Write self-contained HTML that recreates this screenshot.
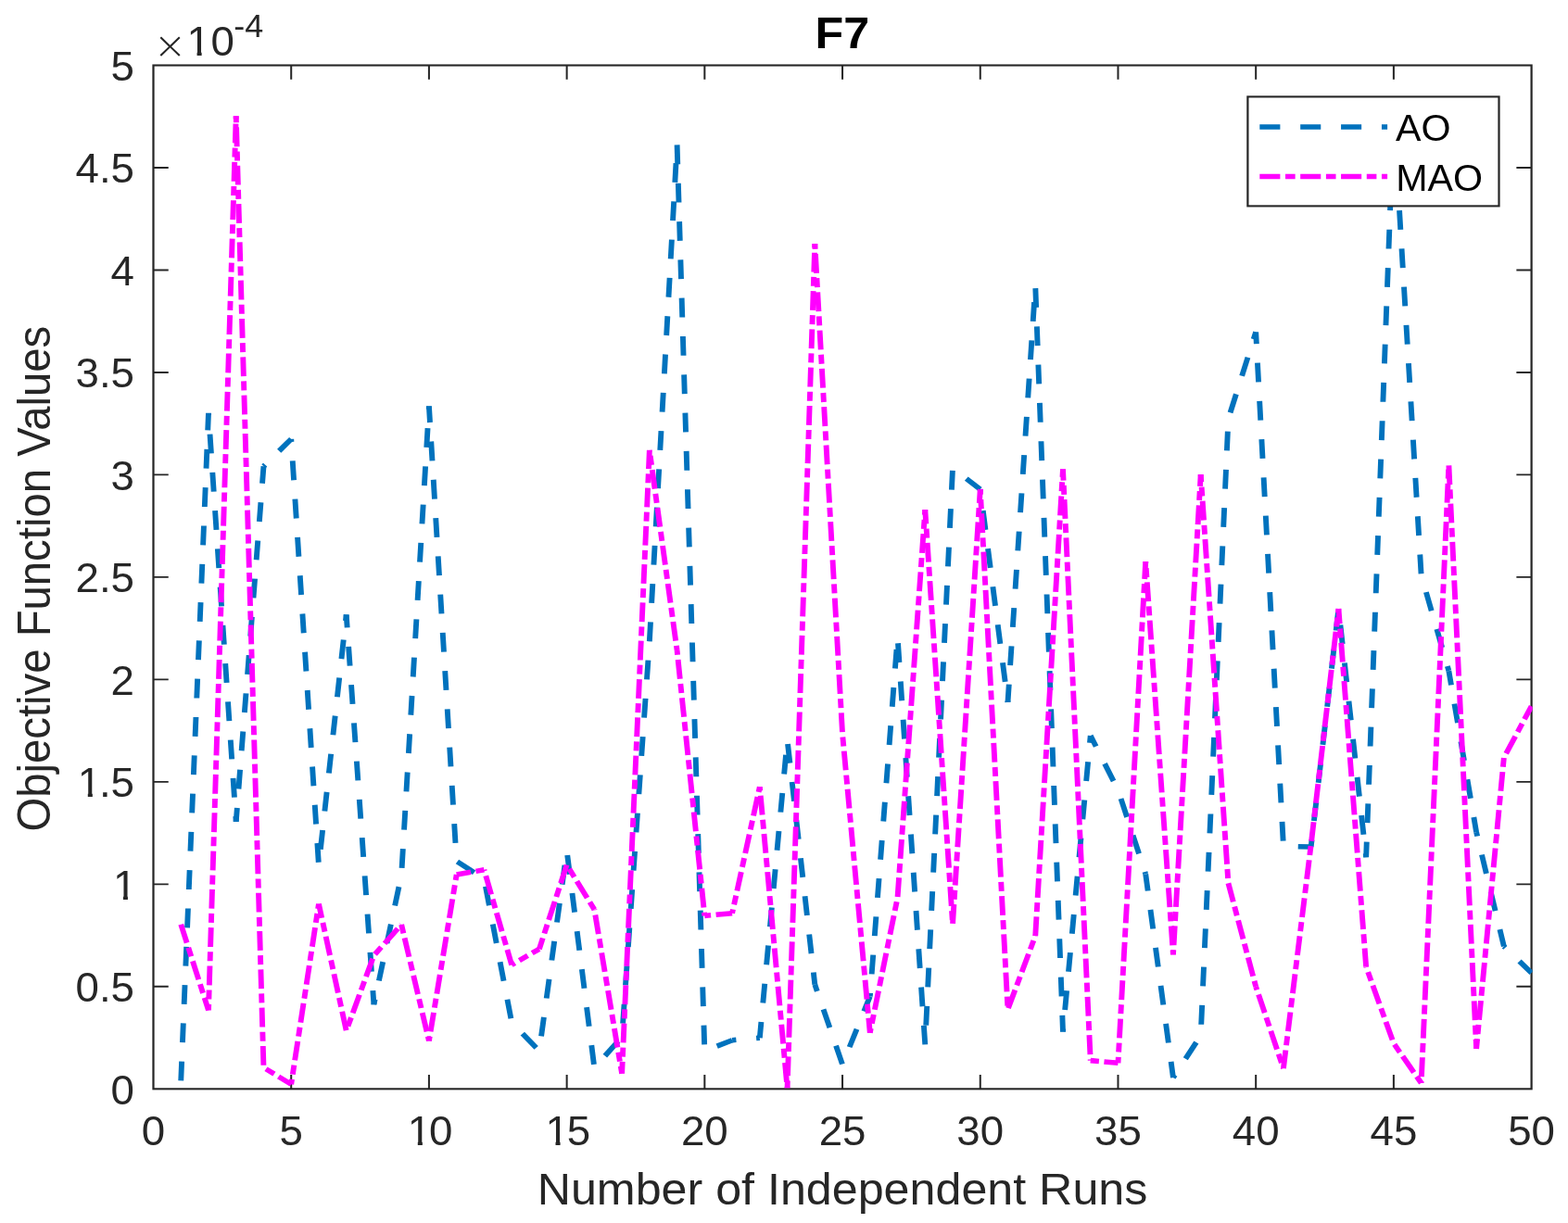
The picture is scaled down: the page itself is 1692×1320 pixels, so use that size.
<!DOCTYPE html>
<html lang="en"><head><meta charset="utf-8"><title>F7</title>
<style>
html,body{margin:0;padding:0;background:#fff;}
body{width:1692px;height:1320px;overflow:hidden;}
svg{display:block;}
text{font-family:"Liberation Sans", Arial, Helvetica, sans-serif;fill:#262626;}
.tk{font-size:44.6px;font-kerning:none;}
.sp{font-size:35.0px;}
.tm{font-family:"DejaVu Sans Light","DejaVu Sans",sans-serif;font-weight:200;font-size:40px;}
.lb{font-size:47.3px;}
.tt{font-size:48.8px;font-weight:bold;fill:#000;}
.lg{font-size:40.0px;fill:#000;}
.ax{stroke:#262626;fill:none;}
.d{fill:none;stroke-width:5.55;stroke-linecap:butt;}
.ao{stroke:#0072BD;stroke-dasharray:20.8 20.53;}
.mao{stroke:#FF00FF;stroke-dasharray:20.8 5.3 10 5.23;}
</style></head><body>
<svg width="1692" height="1320" viewBox="0 0 1692 1320">
<rect x="0" y="0" width="1692" height="1320" fill="#fff"/>
<defs><clipPath id="c"><rect x="155.88" y="70.50" width="1401.68" height="1103.80"/></clipPath></defs>
<g transform="scale(1.0617 1)">
<rect class="ax" x="155.88" y="70.50" width="1400.68" height="1104.80" stroke-width="2.1"/>
<path class="ax" stroke-width="1.9" d="M295.95 1175.30v-15.30M295.95 70.50v15.30M436.02 1175.30v-15.30M436.02 70.50v15.30M576.09 1175.30v-15.30M576.09 70.50v15.30M716.15 1175.30v-15.30M716.15 70.50v15.30M856.22 1175.30v-15.30M856.22 70.50v15.30M996.29 1175.30v-15.30M996.29 70.50v15.30M1136.36 1175.30v-15.30M1136.36 70.50v15.30M1276.42 1175.30v-15.30M1276.42 70.50v15.30M1416.49 1175.30v-15.30M1416.49 70.50v15.30M155.88 1064.82h15.30M1556.56 1064.82h-15.30M155.88 954.34h15.30M1556.56 954.34h-15.30M155.88 843.86h15.30M1556.56 843.86h-15.30M155.88 733.38h15.30M1556.56 733.38h-15.30M155.88 622.90h15.30M1556.56 622.90h-15.30M155.88 512.42h15.30M1556.56 512.42h-15.30M155.88 401.94h15.30M1556.56 401.94h-15.30M155.88 291.46h15.30M1556.56 291.46h-15.30M155.88 180.98h15.30M1556.56 180.98h-15.30"/>
<g clip-path="url(#c)">
<line class="d ao" x1="183.90" y1="1166.48" x2="211.91" y2="445.87" stroke-dashoffset="0.00"/>
<line class="d ao" x1="211.91" y1="445.87" x2="239.92" y2="886.90" stroke-dashoffset="18.55"/>
<line class="d ao" x1="239.92" y1="886.90" x2="267.94" y2="503.27" stroke-dashoffset="5.85"/>
<line class="d ao" x1="267.94" y1="503.27" x2="295.95" y2="473.93" stroke-dashoffset="18.53"/>
<line class="d ao" x1="295.95" y1="473.93" x2="323.96" y2="933.92" stroke-dashoffset="17.77"/>
<line class="d ao" x1="323.96" y1="933.92" x2="351.98" y2="663.36" stroke-dashoffset="23.98"/>
<line class="d ao" x1="351.98" y1="663.36" x2="379.99" y2="1084.20" stroke-dashoffset="6.69"/>
<line class="d ao" x1="379.99" y1="1084.20" x2="408.00" y2="944.37" stroke-dashoffset="15.16"/>
<line class="d ao" x1="408.00" y1="944.37" x2="436.02" y2="438.44" stroke-dashoffset="33.77"/>
<line class="d ao" x1="436.02" y1="438.44" x2="464.03" y2="929.53" stroke-dashoffset="3.19"/>
<line class="d ao" x1="464.03" y1="929.53" x2="492.04" y2="948.73" stroke-dashoffset="40.44"/>
<line class="d ao" x1="492.04" y1="948.73" x2="520.06" y2="1103.38" stroke-dashoffset="33.07"/>
<line class="d ao" x1="520.06" y1="1103.38" x2="548.07" y2="1134.33" stroke-dashoffset="24.92"/>
<line class="d ao" x1="548.07" y1="1134.33" x2="576.09" y2="918.26" stroke-dashoffset="25.34"/>
<line class="d ao" x1="576.09" y1="918.26" x2="604.10" y2="1152.52" stroke-dashoffset="36.57"/>
<line class="d ao" x1="604.10" y1="1152.52" x2="632.11" y2="1119.13" stroke-dashoffset="24.52"/>
<line class="d ao" x1="632.11" y1="1119.13" x2="660.13" y2="692.04" stroke-dashoffset="26.78"/>
<line class="d ao" x1="660.13" y1="692.04" x2="688.14" y2="156.03" stroke-dashoffset="0.16"/>
<line class="d ao" x1="688.14" y1="156.03" x2="716.15" y2="1134.36" stroke-dashoffset="40.93"/>
<line class="d ao" x1="716.15" y1="1134.36" x2="744.17" y2="1122.73" stroke-dashoffset="27.74"/>
<line class="d ao" x1="744.17" y1="1122.73" x2="772.18" y2="1120.15" stroke-dashoffset="16.74"/>
<line class="d ao" x1="772.18" y1="1120.15" x2="800.19" y2="798.61" stroke-dashoffset="3.54"/>
<line class="d ao" x1="800.19" y1="798.61" x2="828.21" y2="1062.72" stroke-dashoffset="36.99"/>
<line class="d ao" x1="828.21" y1="1062.72" x2="856.22" y2="1148.90" stroke-dashoffset="13.27"/>
<line class="d ao" x1="856.22" y1="1148.90" x2="884.23" y2="1075.49" stroke-dashoffset="21.23"/>
<line class="d ao" x1="884.23" y1="1075.49" x2="912.25" y2="687.31" stroke-dashoffset="17.13"/>
<line class="d ao" x1="912.25" y1="687.31" x2="940.26" y2="1127.37" stroke-dashoffset="34.36"/>
<line class="d ao" x1="940.26" y1="1127.37" x2="968.28" y2="505.35" stroke-dashoffset="20.68"/>
<line class="d ao" x1="968.28" y1="505.35" x2="996.29" y2="528.22" stroke-dashoffset="23.38"/>
<line class="d ao" x1="996.29" y1="528.22" x2="1024.30" y2="757.86" stroke-dashoffset="18.22"/>
<line class="d ao" x1="1024.30" y1="757.86" x2="1052.32" y2="308.36" stroke-dashoffset="1.58"/>
<line class="d ao" x1="1052.32" y1="308.36" x2="1080.33" y2="1113.54" stroke-dashoffset="38.65"/>
<line class="d ao" x1="1080.33" y1="1113.54" x2="1108.34" y2="793.99" stroke-dashoffset="17.72"/>
<line class="d ao" x1="1108.34" y1="793.99" x2="1136.36" y2="852.57" stroke-dashoffset="7.86"/>
<line class="d ao" x1="1136.36" y1="852.57" x2="1164.37" y2="943.29" stroke-dashoffset="31.46"/>
<line class="d ao" x1="1164.37" y1="943.29" x2="1192.38" y2="1163.10" stroke-dashoffset="2.42"/>
<line class="d ao" x1="1192.38" y1="1163.10" x2="1220.40" y2="1117.61" stroke-dashoffset="17.36"/>
<line class="d ao" x1="1220.40" y1="1117.61" x2="1248.41" y2="452.05" stroke-dashoffset="29.46"/>
<line class="d ao" x1="1248.41" y1="452.05" x2="1276.42" y2="358.37" stroke-dashoffset="34.32"/>
<line class="d ao" x1="1276.42" y1="358.37" x2="1304.44" y2="913.26" stroke-dashoffset="8.12"/>
<line class="d ao" x1="1304.44" y1="913.26" x2="1332.45" y2="914.04" stroke-dashoffset="26.43"/>
<line class="d ao" x1="1332.45" y1="914.04" x2="1360.47" y2="656.97" stroke-dashoffset="13.13"/>
<line class="d ao" x1="1360.47" y1="656.97" x2="1388.48" y2="925.24" stroke-dashoffset="23.73"/>
<line class="d ao" x1="1388.48" y1="925.24" x2="1416.49" y2="123.95" stroke-dashoffset="4.15"/>
<line class="d ao" x1="1416.49" y1="123.95" x2="1444.51" y2="620.87" stroke-dashoffset="20.66"/>
<line class="d ao" x1="1444.51" y1="620.87" x2="1472.52" y2="724.10" stroke-dashoffset="22.40"/>
<line class="d ao" x1="1472.52" y1="724.10" x2="1500.53" y2="898.19" stroke-dashoffset="5.38"/>
<line class="d ao" x1="1500.53" y1="898.19" x2="1528.55" y2="1021.49" stroke-dashoffset="16.39"/>
<line class="d ao" x1="1528.55" y1="1021.49" x2="1556.56" y2="1050.10" stroke-dashoffset="18.84"/>
<line class="d mao" x1="183.90" y1="997.76" x2="211.91" y2="1090.45" stroke-dashoffset="0.00"/>
<line class="d mao" x1="211.91" y1="1090.45" x2="239.92" y2="125.28" stroke-dashoffset="14.17"/>
<line class="d mao" x1="239.92" y1="125.28" x2="267.94" y2="1152.25" stroke-dashoffset="29.17"/>
<line class="d mao" x1="267.94" y1="1152.25" x2="295.95" y2="1170.28" stroke-dashoffset="23.28"/>
<line class="d mao" x1="295.95" y1="1170.28" x2="323.96" y2="975.55" stroke-dashoffset="15.26"/>
<line class="d mao" x1="323.96" y1="975.55" x2="351.98" y2="1112.44" stroke-dashoffset="5.35"/>
<line class="d mao" x1="351.98" y1="1112.44" x2="379.99" y2="1031.17" stroke-dashoffset="21.08"/>
<line class="d mao" x1="379.99" y1="1031.17" x2="408.00" y2="997.96" stroke-dashoffset="24.38"/>
<line class="d mao" x1="408.00" y1="997.96" x2="436.02" y2="1123.48" stroke-dashoffset="26.50"/>
<line class="d mao" x1="436.02" y1="1123.48" x2="464.03" y2="944.02" stroke-dashoffset="31.12"/>
<line class="d mao" x1="464.03" y1="944.02" x2="492.04" y2="938.83" stroke-dashoffset="6.11"/>
<line class="d mao" x1="492.04" y1="938.83" x2="520.06" y2="1041.44" stroke-dashoffset="34.60"/>
<line class="d mao" x1="520.06" y1="1041.44" x2="548.07" y2="1024.32" stroke-dashoffset="16.98"/>
<line class="d mao" x1="548.07" y1="1024.32" x2="576.09" y2="933.42" stroke-dashoffset="8.48"/>
<line class="d mao" x1="576.09" y1="933.42" x2="604.10" y2="981.69" stroke-dashoffset="20.94"/>
<line class="d mao" x1="604.10" y1="981.69" x2="632.11" y2="1158.73" stroke-dashoffset="35.43"/>
<line class="d mao" x1="632.11" y1="1158.73" x2="660.13" y2="485.97" stroke-dashoffset="8.02"/>
<line class="d mao" x1="660.13" y1="485.97" x2="688.14" y2="702.00" stroke-dashoffset="20.08"/>
<line class="d mao" x1="688.14" y1="702.00" x2="716.15" y2="988.41" stroke-dashoffset="31.27"/>
<line class="d mao" x1="716.15" y1="988.41" x2="744.17" y2="985.72" stroke-dashoffset="29.73"/>
<line class="d mao" x1="744.17" y1="985.72" x2="772.18" y2="849.30" stroke-dashoffset="16.55"/>
<line class="d mao" x1="772.18" y1="849.30" x2="800.19" y2="1174.66" stroke-dashoffset="31.82"/>
<line class="d mao" x1="800.19" y1="1174.66" x2="828.21" y2="263.20" stroke-dashoffset="27.75"/>
<line class="d mao" x1="828.21" y1="263.20" x2="856.22" y2="791.71" stroke-dashoffset="30.38"/>
<line class="d mao" x1="856.22" y1="791.71" x2="884.23" y2="1114.73" stroke-dashoffset="22.35"/>
<line class="d mao" x1="884.23" y1="1114.73" x2="912.25" y2="968.81" stroke-dashoffset="15.94"/>
<line class="d mao" x1="912.25" y1="968.81" x2="940.26" y2="550.14" stroke-dashoffset="40.54"/>
<line class="d mao" x1="940.26" y1="550.14" x2="968.28" y2="997.58" stroke-dashoffset="5.52"/>
<line class="d mao" x1="968.28" y1="997.58" x2="996.29" y2="527.98" stroke-dashoffset="40.54"/>
<line class="d mao" x1="996.29" y1="527.98" x2="1024.30" y2="1089.48" stroke-dashoffset="15.02"/>
<line class="d mao" x1="1024.30" y1="1089.48" x2="1052.32" y2="1010.04" stroke-dashoffset="39.93"/>
<line class="d mao" x1="1052.32" y1="1010.04" x2="1080.33" y2="506.45" stroke-dashoffset="0.17"/>
<line class="d mao" x1="1080.33" y1="506.45" x2="1108.34" y2="1144.63" stroke-dashoffset="8.58"/>
<line class="d mao" x1="1108.34" y1="1144.63" x2="1136.36" y2="1147.35" stroke-dashoffset="27.42"/>
<line class="d mao" x1="1136.36" y1="1147.35" x2="1164.37" y2="606.06" stroke-dashoffset="14.24"/>
<line class="d mao" x1="1164.37" y1="606.06" x2="1192.38" y2="1030.42" stroke-dashoffset="18.96"/>
<line class="d mao" x1="1192.38" y1="1030.42" x2="1220.40" y2="512.15" stroke-dashoffset="30.94"/>
<line class="d mao" x1="1220.40" y1="512.15" x2="1248.41" y2="953.30" stroke-dashoffset="12.66"/>
<line class="d mao" x1="1248.41" y1="953.30" x2="1276.42" y2="1064.84" stroke-dashoffset="0.07"/>
<line class="d mao" x1="1276.42" y1="1064.84" x2="1304.44" y2="1153.14" stroke-dashoffset="32.41"/>
<line class="d mao" x1="1304.44" y1="1153.14" x2="1332.45" y2="912.00" stroke-dashoffset="1.06"/>
<line class="d mao" x1="1332.45" y1="912.00" x2="1360.47" y2="656.93" stroke-dashoffset="37.16"/>
<line class="d mao" x1="1360.47" y1="656.93" x2="1388.48" y2="1043.54" stroke-dashoffset="4.46"/>
<line class="d mao" x1="1388.48" y1="1043.54" x2="1416.49" y2="1126.14" stroke-dashoffset="20.12"/>
<line class="d mao" x1="1416.49" y1="1126.14" x2="1444.51" y2="1168.89" stroke-dashoffset="24.68"/>
<line class="d mao" x1="1444.51" y1="1168.89" x2="1472.52" y2="501.86" stroke-dashoffset="34.46"/>
<line class="d mao" x1="1472.52" y1="501.86" x2="1500.53" y2="1131.88" stroke-dashoffset="40.80"/>
<line class="d mao" x1="1500.53" y1="1131.88" x2="1528.55" y2="817.57" stroke-dashoffset="10.17"/>
<line class="d mao" x1="1528.55" y1="817.57" x2="1556.56" y2="762.22" stroke-dashoffset="36.42"/>
</g>
<text class="tk" text-anchor="middle" transform="translate(155.88 1236.40) scale(0.9645 1)">0</text>
<text class="tk" text-anchor="middle" transform="translate(295.95 1236.40) scale(0.9645 1)">5</text>
<text class="tk" transform="translate(436.02 1236.40) scale(0.9645 1)" clip-path="url(#k0)" x="-22.56 0.00">10</text>
<text class="tk" transform="translate(576.09 1236.40) scale(0.9645 1)" clip-path="url(#k1)" x="-22.56 0.00">15</text>
<text class="tk" text-anchor="middle" transform="translate(716.15 1236.40) scale(0.9645 1)">20</text>
<text class="tk" text-anchor="middle" transform="translate(856.22 1236.40) scale(0.9645 1)">25</text>
<text class="tk" text-anchor="middle" transform="translate(996.29 1236.40) scale(0.9645 1)">30</text>
<text class="tk" text-anchor="middle" transform="translate(1136.36 1236.40) scale(0.9645 1)">35</text>
<text class="tk" text-anchor="middle" transform="translate(1276.42 1236.40) scale(0.9645 1)">40</text>
<text class="tk" text-anchor="middle" transform="translate(1416.49 1236.40) scale(0.9645 1)">45</text>
<text class="tk" text-anchor="middle" transform="translate(1556.56 1236.40) scale(0.9645 1)">50</text>
<text class="tk" text-anchor="end" transform="translate(136.57 1191.60) scale(0.9645 1)">0</text>
<text class="tk" text-anchor="end" transform="translate(136.57 1081.12) scale(0.9645 1)">0.5</text>
<text class="tk" transform="translate(136.57 970.64) scale(0.9645 1)" clip-path="url(#k2)" x="-22.56">1</text>
<text class="tk" transform="translate(136.57 860.16) scale(0.9645 1)" clip-path="url(#k3)" x="-59.75 -37.20 -24.80">1.5</text>
<text class="tk" text-anchor="end" transform="translate(136.57 749.68) scale(0.9645 1)">2</text>
<text class="tk" text-anchor="end" transform="translate(136.57 639.20) scale(0.9645 1)">2.5</text>
<text class="tk" text-anchor="end" transform="translate(136.57 528.72) scale(0.9645 1)">3</text>
<text class="tk" text-anchor="end" transform="translate(136.57 418.24) scale(0.9645 1)">3.5</text>
<text class="tk" text-anchor="end" transform="translate(136.57 307.76) scale(0.9645 1)">4</text>
<text class="tk" text-anchor="end" transform="translate(136.57 197.28) scale(0.9645 1)">4.5</text>
<text class="tk" text-anchor="end" transform="translate(136.57 86.80) scale(0.9645 1)">5</text>
<text class="tm" text-anchor="middle" transform="translate(172.84 62.60)">×</text>
<text class="tk" transform="translate(190.45 60.00) scale(0.9645 1)" clip-path="url(#k4)" x="-0.59 24.80">10</text>
<text class="sp" transform="translate(237.54 39.50) scale(0.9655 1)">-4</text>
<text class="lb" text-anchor="middle" transform="translate(856.17 1300.00)">Number of Independent Runs</text>
<text class="lb" text-anchor="middle" transform="translate(50.96 624.70) rotate(-90)">Objective Function Values</text>
<text class="tt" text-anchor="middle" transform="translate(855.99 51.70) scale(0.97 1)">F7</text>
<rect x="1268.15" y="104.40" width="255.35" height="118.00" fill="#fff" stroke="#262626" stroke-width="2.1"/>
<line class="d ao" x1="1280.31" y1="136.90" x2="1410.10" y2="136.90"/>
<line class="d mao" x1="1280.31" y1="190.50" x2="1410.10" y2="190.50"/>
<text class="lg" transform="translate(1418.48 151.70) scale(0.97 1)">AO</text>
<text class="lg" transform="translate(1418.76 205.60) scale(0.97 1)">MAO</text>
</g>
<defs><clipPath id="k0"><rect x="-27.56" y="-60.00" width="59.61" height="55.67"/><rect x="-11.84" y="-5.33" width="4.94" height="7.33"/><rect x="1.29" y="-5.33" width="49.61" height="17.33"/></clipPath><clipPath id="k1"><rect x="-27.56" y="-60.00" width="59.61" height="55.67"/><rect x="-11.84" y="-5.33" width="4.94" height="7.33"/><rect x="1.29" y="-5.33" width="49.61" height="17.33"/></clipPath><clipPath id="k2"><rect x="-27.56" y="-60.00" width="34.80" height="55.67"/><rect x="-11.84" y="-5.33" width="4.94" height="7.33"/></clipPath><clipPath id="k3"><rect x="-64.75" y="-60.00" width="72.00" height="55.67"/><rect x="-49.04" y="-5.33" width="4.94" height="7.33"/><rect x="-35.91" y="-5.33" width="62.00" height="17.33"/></clipPath><clipPath id="k4"><rect x="-5.59" y="-60.00" width="59.61" height="55.67"/><rect x="10.13" y="-5.33" width="4.94" height="7.33"/><rect x="23.26" y="-5.33" width="49.61" height="17.33"/></clipPath></defs>
</svg>
</body></html>
